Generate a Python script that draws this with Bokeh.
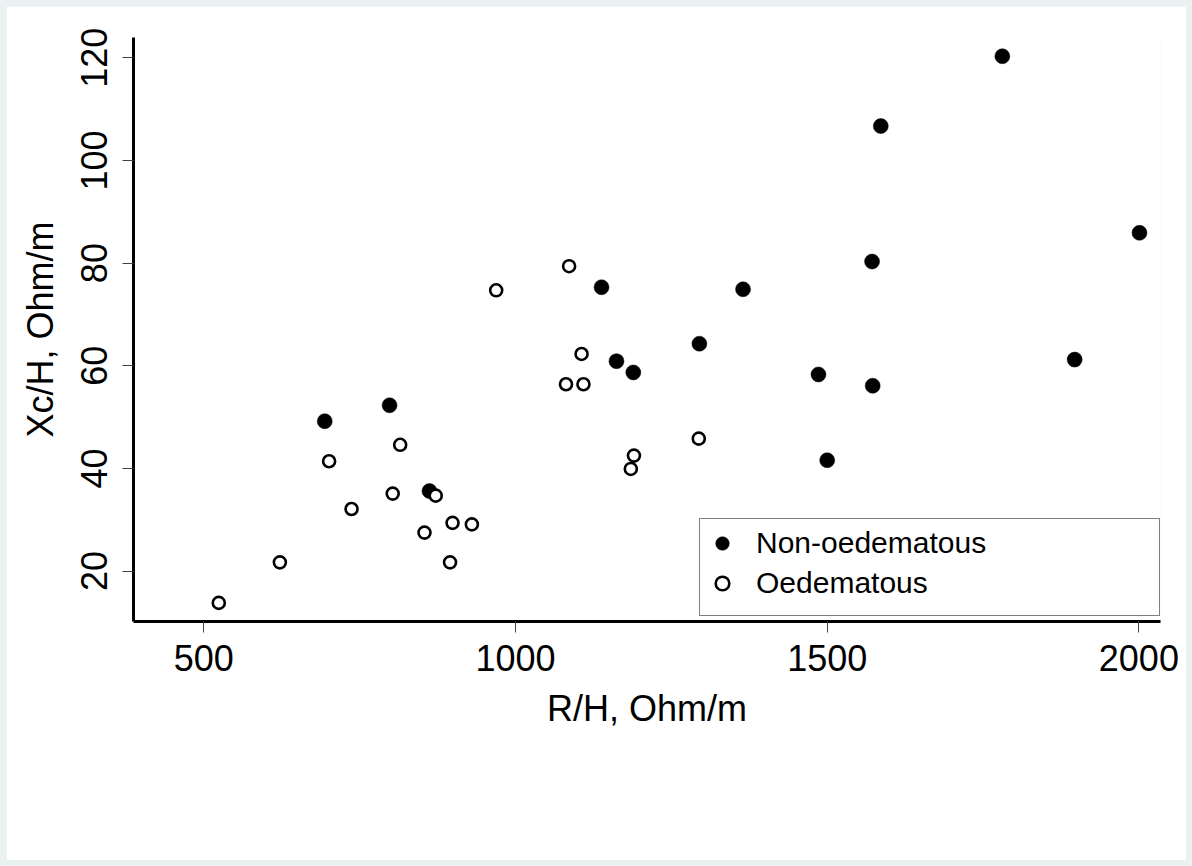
from bokeh.plotting import figure
from bokeh.models import Legend, LegendItem, FixedTicker, Range1d
from bokeh.embed import file_html
from bokeh.resources import INLINE

# Non-oedematous (filled)
non_x = [694, 798, 862, 1138, 1162, 1189, 1295, 1365, 1486, 1500, 1572, 1573, 1586, 1781, 1897, 2001]
non_y = [49.2, 52.3, 35.6, 75.3, 60.9, 58.7, 64.3, 74.9, 58.3, 41.6, 80.3, 56.1, 106.7, 120.3, 61.2, 85.9]

# Oedematous (open)
oed_x = [524, 622, 701, 737, 803, 815, 854, 872, 899, 895, 930, 969, 1086, 1081, 1109, 1106, 1190, 1185, 1294]
oed_y = [13.8, 21.7, 41.4, 32.1, 35.1, 44.6, 27.5, 34.7, 29.4, 21.7, 29.1, 74.7, 79.4, 56.4, 56.4, 62.3, 42.5, 39.9, 45.8]

x_ticks = [500, 1000, 1500, 2000]
y_ticks = [20, 40, 60, 80, 100, 120]

FONT = "Liberation Sans"

p = figure(width=1180, height=854, output_backend="svg", toolbar_location=None,
           x_range=Range1d(387.2, 2034.7), y_range=Range1d(10.18, 123.95),
           min_border_left=127, min_border_right=26, min_border_top=31, min_border_bottom=239)
p.outline_line_color = None
p.grid.visible = False
p.background_fill_color = "white"
p.border_fill_color = "white"

r_non = p.scatter(non_x, non_y, marker="circle", size=15, fill_color="black", line_color="black", line_width=0.5)
r_oed = p.scatter(oed_x, oed_y, marker="circle", size=12, fill_color="white", line_color="black", line_width=2.6)

for ax in (p.xaxis[0], p.yaxis[0]):
    ax.axis_line_width = 3
    ax.axis_line_color = "black"
    ax.major_tick_in = 0
    ax.major_tick_out = 11
    ax.major_tick_line_color = "#444444"
    ax.major_tick_line_width = 1
    ax.minor_tick_line_color = None
    ax.major_label_text_font = FONT
    ax.major_label_text_font_size = "36px"
    ax.major_label_text_color = "black"
    ax.axis_label_text_font = FONT
    ax.axis_label_text_font_size = "36px"
    ax.axis_label_text_font_style = "normal"
    ax.axis_label_text_color = "black"

p.xaxis[0].ticker = FixedTicker(ticks=x_ticks)
p.yaxis[0].ticker = FixedTicker(ticks=y_ticks)
p.xaxis[0].axis_label = "R/H, Ohm/m"
p.yaxis[0].axis_label = "Xc/H, Ohm/m"
p.xaxis[0].major_label_standoff = 12
p.xaxis[0].axis_label_standoff = 14
p.yaxis[0].major_label_orientation = "vertical"
p.yaxis[0].major_label_standoff = 15
p.yaxis[0].axis_label_standoff = 18

legend = Legend(items=[LegendItem(label="Non-oedematous", renderers=[r_non]),
                       LegendItem(label="Oedematous", renderers=[r_oed])],
                location=(566, 5),
                padding=5, spacing=2,
                glyph_width=34, glyph_height=38, label_height=38,
                label_standoff=17, label_width=398,
                label_text_font=FONT, label_text_font_size="30px", label_text_color="black",
                border_line_color="black", border_line_width=1,
                background_fill_color="white", background_fill_alpha=1,
                title="\u00a0", title_location="below", title_text_font_size="6px",
                title_standoff=2, margin=0)
p.add_layout(legend, "center")

html = file_html(p, INLINE)
html = html.replace("<body>", '<body style="padding:6px; background-color:#e9f1f1;">')
open("out.html", "w").write(html)
